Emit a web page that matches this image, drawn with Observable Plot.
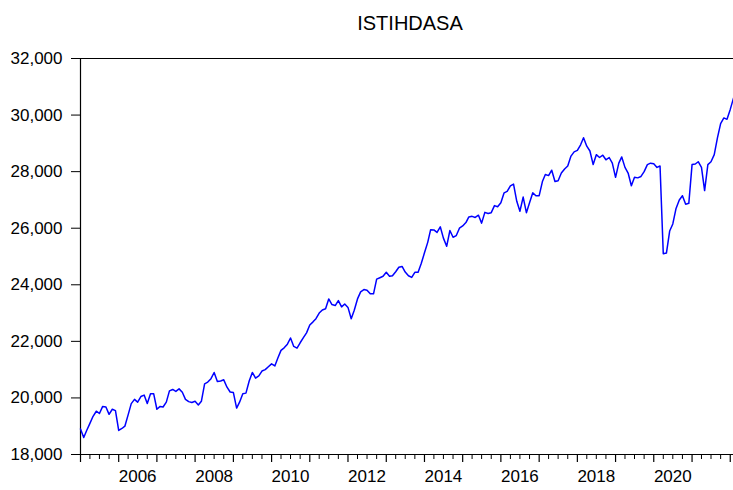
<!DOCTYPE html>
<html>
<head>
<meta charset="utf-8">
<script src="https://cdn.jsdelivr.net/npm/d3@7"></script>
<script src="https://cdn.jsdelivr.net/npm/@observablehq/plot@0.6"></script>
<style>
  html, body { margin: 0; padding: 0; background: #fff; }
  #chart { width: 733px; height: 490px; }
</style>
</head>
<body>
<div id="chart"></div>
<script>
// Monthly series ISTIHDASA, starting 2005-01
const startYear = 2005;
const title = "ISTIHDASA";
const v2005 = [18900, 18600, 18850, 19100, 19350, 19530, 19450, 19700, 19680, 19420, 19600, 19550];
const v2006 = [18850, 18920, 19000, 19400, 19800, 19950, 19850, 20050, 20100, 19800, 20150, 20150];
const v2007 = [19600, 19700, 19680, 19850, 20250, 20300, 20230, 20320, 20200, 19950, 19870, 19840];
const v2008 = [19880, 19750, 19880, 20500, 20560, 20680, 20900, 20580, 20600, 20640, 20380, 20210];
const v2009 = [20190, 19640, 19850, 20150, 20170, 20600, 20900, 20700, 20780, 20950, 21000, 21100];
const v2010 = [21205, 21130, 21400, 21680, 21770, 21900, 22120, 21820, 21760, 21950, 22130, 22300];
const v2011 = [22580, 22690, 22800, 23000, 23110, 23150, 23500, 23300, 23265, 23440, 23220, 23320];
const v2012 = [23200, 22800, 23100, 23500, 23750, 23830, 23810, 23680, 23680, 24200, 24250, 24300];
const v2013 = [24440, 24300, 24320, 24460, 24620, 24650, 24450, 24320, 24260, 24440, 24440, 24750];
const v2014 = [25130, 25500, 25950, 25940, 25850, 26050, 25650, 25360, 25920, 25680, 25740, 26000];
const v2015 = [26080, 26200, 26400, 26420, 26380, 26460, 26180, 26560, 26520, 26550, 26800, 26760];
const v2016 = [26900, 27250, 27300, 27500, 27560, 26950, 26600, 27100, 26550, 26900, 27250, 27150];
const v2017 = [27150, 27650, 27900, 27860, 28050, 27650, 27680, 27950, 28095, 28200, 28550, 28700];
const v2018 = [28750, 28950, 29200, 28900, 28730, 28250, 28600, 28500, 28580, 28420, 28500, 28300];
const v2019 = [27800, 28300, 28520, 28150, 27950, 27500, 27800, 27780, 27830, 28000, 28250, 28300];
const v2020 = [28280, 28150, 28200, 25100, 25120, 25900, 26150, 26700, 27000, 27150, 26850, 26880];
const v2021 = [28250, 28270, 28350, 28150, 27330, 28250, 28350, 28600, 29200, 29700, 29900, 29850];
const v2022 = [30200, 30600];

const yTicks = [18000, 20000, 22000, 24000, 26000, 28000, 30000, 32000];
const xLabelYears = ["2006", "2008", "2010", "2012", "2014", "2016", "2018", "2020"];

const allValues = [v2005, v2006, v2007, v2008, v2009, v2010, v2011, v2012, v2013,
                   v2014, v2015, v2016, v2017, v2018, v2019, v2020, v2021, v2022].flat();
const data = allValues.map((v, i) => ({
  date: new Date(Date.UTC(startYear + Math.floor(i / 12), i % 12, 1)),
  value: v
}));
const endDate = data[data.length - 1].date;

const yearStarts = d3.range(2005, 2023).map(y => new Date(Date.UTC(y, 0, 1)))
  .filter(d => d <= endDate);
const quarterTicks = d3.utcMonth.every(3).range(new Date(Date.UTC(2005, 0, 1)), endDate)
  .filter(d => d.getUTCMonth() !== 0);
const labels = xLabelYears.map(y => ({ date: new Date(Date.UTC(+y, 6, 1)), text: y }));

const font = "'Liberation Sans', Arial, sans-serif";

const chart = Plot.plot({
  width: 733,
  height: 490,
  marginLeft: 80,
  marginRight: 0,
  marginTop: 58,
  marginBottom: 36,
  style: { fontFamily: font, background: "#fff", color: "#000" },
  x: { type: "utc", domain: [new Date(Date.UTC(2005, 0, 1)), endDate] },
  y: { domain: [18000, 32000] },
  marks: [
    Plot.ruleY([32000], { stroke: "#000", strokeWidth: 1 }),
    Plot.ruleY([18000], { stroke: "#000", strokeWidth: 1.2 }),
    Plot.ruleX([new Date(Date.UTC(2005, 0, 1))], { stroke: "#000", strokeWidth: 1.2 }),
    Plot.axisY({ ticks: yTicks, tickFormat: d3.format(","), tickSize: 9, tickPadding: 9,
      fontSize: 17, label: null, stroke: "#000" }),
    Plot.axisX({ ticks: yearStarts, tickSize: 8, tickFormat: () => "", label: null, strokeWidth: 1.2 }),
    Plot.axisX({ ticks: quarterTicks, tickSize: 5, tickFormat: () => "", label: null }),
    Plot.text(labels, { x: "date", text: "text", frameAnchor: "bottom", dy: 22, fontSize: 17,
      lineAnchor: "middle", fill: "#000" }),
    Plot.line(data, { x: "date", y: "value", stroke: "#0000ff", strokeWidth: 1.5 }),
    Plot.text([title], { frameAnchor: "top", dy: -43, dx: 3, fontSize: 20, fill: "#000" })
  ]
});
document.getElementById("chart").appendChild(chart);
</script>
</body>
</html>
